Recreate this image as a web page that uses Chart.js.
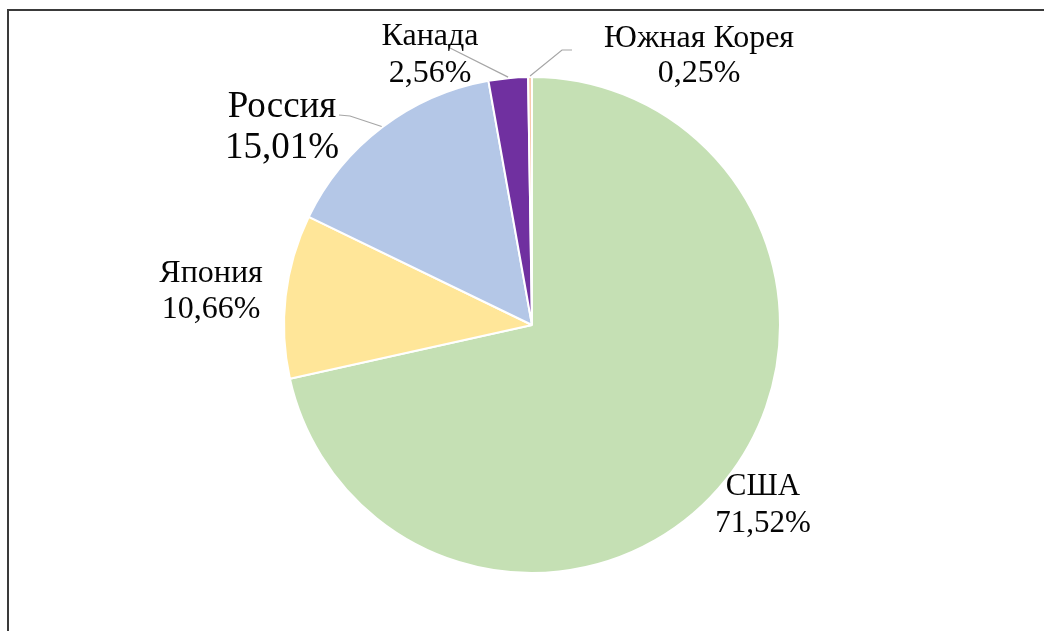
<!DOCTYPE html>
<html>
<head>
<meta charset="utf-8">
<script src="https://cdn.jsdelivr.net/npm/chart.js@4"></script>
<style>
  html, body { margin: 0; padding: 0; background: #fff; }
  #wrap { position: relative; width: 1044px; height: 631px; overflow: hidden; background: #fff; }
  #c { position: absolute; left: 0; top: 0; }
  #frame {
    position: absolute; left: 7px; top: 9px; right: -10px; bottom: -10px;
    border-left: 2px solid #3a3a3a; border-top: 2px solid #3a3a3a;
    pointer-events: none;
  }
</style>
</head>
<body>
<div id="wrap">
  <canvas id="c" width="1044" height="631"></canvas>
  <div id="frame"></div>
</div>
<script>
// Доли стран, %
const countries = ['США', 'Япония', 'Россия', 'Канада', 'Южная Корея'];
const shares = [71.52, 10.66, 15.01, 2.56, 0.25];
const sliceColors = ['#C5E0B4', '#FFE699', '#B4C7E7', '#7030A0', '#F8CBAD'];

// Размещение подписей: центр текста, базовые линии строк, кегль, изломы выносок
const labelLayout = [
  { x: 763, lines: [495, 532], size: 31, leader: null },
  { x: 211, lines: [282, 318], size: 32, leader: null },
  { x: 282, lines: [117, 158], size: 37, leader: [[339, 115], [350, 116]] },
  { x: 430, lines: [45, 82],   size: 32, leader: [[450, 48]] },
  { x: 699, lines: [47, 82],   size: 32, leader: [[572, 50], [562, 50]] }
];

const fmt = v => v.toFixed(2).replace('.', ',') + '%';

const labelPlugin = {
  id: 'sliceLabels',
  afterDatasetsDraw(chart) {
    const ctx = chart.ctx;
    const arcs = chart.getDatasetMeta(0).data;
    ctx.save();
    arcs.forEach((arc, i) => {
      const lay = labelLayout[i];
      const p = arc.getProps(['x', 'y', 'startAngle', 'endAngle', 'outerRadius'], true);
      const mid = (p.startAngle + p.endAngle) / 2;
      if (lay.leader) {
        const r = p.outerRadius + 1;
        const ex = p.x + Math.cos(mid) * r;
        const ey = p.y + Math.sin(mid) * r;
        ctx.beginPath();
        ctx.strokeStyle = '#a6a6a6';
        ctx.lineWidth = 1.2;
        lay.leader.forEach((pt, k) => k === 0 ? ctx.moveTo(pt[0], pt[1]) : ctx.lineTo(pt[0], pt[1]));
        ctx.lineTo(ex, ey);
        ctx.stroke();
      }
      ctx.fillStyle = '#050505';
      ctx.textAlign = 'center';
      ctx.textBaseline = 'alphabetic';
      ctx.font = lay.size + 'px "Liberation Serif", "Times New Roman", serif';
      ctx.fillText(countries[i], lay.x, lay.lines[0]);
      ctx.fillText(fmt(shares[i]), lay.x, lay.lines[1]);
    });
    ctx.restore();
  }
};

new Chart(document.getElementById('c'), {
  type: 'pie',
  data: {
    labels: countries,
    datasets: [{
      data: shares,
      backgroundColor: sliceColors,
      borderColor: '#ffffff',
      borderWidth: 2
    }]
  },
  options: {
    responsive: false,
    animation: false,
    layout: { padding: { left: 283, right: 263, top: 76, bottom: 57 } },
    plugins: { legend: { display: false }, tooltip: { enabled: false } }
  },
  plugins: [labelPlugin]
});
</script>
</body>
</html>
